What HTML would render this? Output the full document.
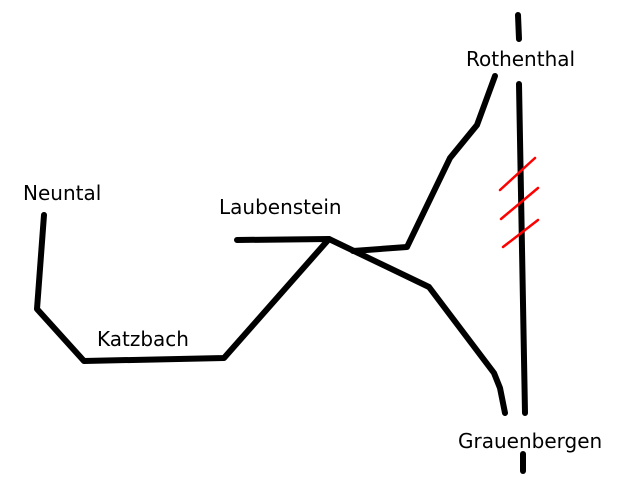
<!DOCTYPE html>
<html><head><style>body{margin:0;background:#fff}svg{display:block}text{font-family:"DejaVu Sans","Liberation Sans",sans-serif;font-size:20px;fill:#000}</style></head>
<body><svg width="640" height="480" viewBox="0 0 640 480">
<g fill="none" stroke="#000" stroke-width="6" stroke-linecap="round" stroke-linejoin="round">
<polyline points="44,215 37,309 84,361 224,358 329,239"/>
<polyline points="237,240 329,239 429,287 494,373 500,388 505,413"/>
<polyline points="353,251 407,247 450,158 477,125 495,76"/>
<line x1="518" y1="15" x2="519" y2="39"/>
<line x1="519" y1="84" x2="525" y2="413"/>
<line x1="523" y1="454" x2="523" y2="471"/>
</g>
<g stroke="#f00" stroke-width="2.5" stroke-linecap="round">
<line x1="500" y1="190" x2="535" y2="158"/>
<line x1="501" y1="219" x2="538" y2="188"/>
<line x1="503" y1="247" x2="538" y2="220"/>
</g>
<text x="466" y="66">Rothenthal</text>
<text x="23" y="200">Neuntal</text>
<text x="219" y="214">Laubenstein</text>
<text x="97" y="346">Katzbach</text>
<text x="458" y="448">Grauenbergen</text>
</svg></body></html>
